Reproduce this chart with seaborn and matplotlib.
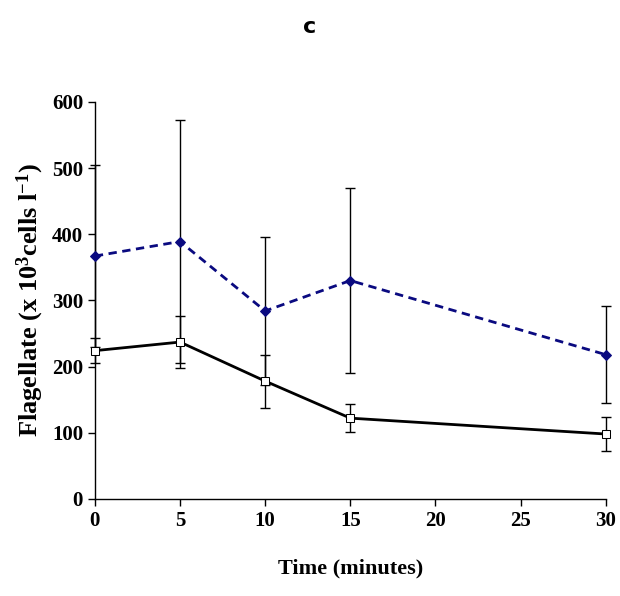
import numpy as np
import pandas as pd
import seaborn as sns
import matplotlib.pyplot as plt

# data
time = [0, 5, 10, 15, 30]
treated = [367, 389, 284, 330, 218]
treated_err = [138, 184, 112, 140, 73]
control = [224, 237, 178, 122, 98]
control_err = [19, 39, 40, 21, 25]

sns.set_style('white')
plt.rcParams['font.family'] = ['Liberation Serif', 'DejaVu Serif']
plt.rcParams['mathtext.default'] = 'regular'
plt.rcParams['text.color'] = 'black'
plt.rcParams['axes.labelcolor'] = 'black'

df = pd.DataFrame({'time': time * 2,
                   'value': treated + control,
                   'err': treated_err + control_err,
                   'series': ['treated'] * 5 + ['control'] * 5})

fig, ax = plt.subplots(figsize=(6.2, 5.96), dpi=100)
fig.subplots_adjust(left=0.153, right=0.977, top=0.829, bottom=0.163)

d1 = df[df.series == 'treated']
d2 = df[df.series == 'control']
for d in (d1, d2):
    eb = ax.errorbar(d.time, d.value, yerr=d.err, fmt='none', ecolor='black', elinewidth=1, capsize=3.5, zorder=1)
    for a in eb.lines[1] + eb.lines[2]:
        a.set_clip_on(False)
sns.lineplot(data=d1, x='time', y='value', ax=ax, color='#0a0a80', linestyle=(0, (3, 2)), linewidth=2,
             marker='D', markersize=5, markeredgecolor='#0a0a80', zorder=3, clip_on=False)
sns.lineplot(data=d2, x='time', y='value', ax=ax, color='black', linewidth=2,
             marker='s', markersize=6, markerfacecolor='white', markeredgecolor='black', zorder=3, clip_on=False)

ax.set_xlim(0, 30)
ax.set_ylim(0, 600)
ax.set_xticks([0, 5, 10, 15, 20, 25, 30])
ax.set_yticks(range(0, 601, 100))
for s in ['top', 'right']:
    ax.spines[s].set_visible(False)
for s in ['left', 'bottom']:
    ax.spines[s].set_color('black')
    ax.spines[s].set_linewidth(1)
ax.tick_params(direction='out', length=5, width=1, colors='black', labelcolor='black', bottom=True, left=True, labelsize=15)
for lab in ax.get_xticklabels() + ax.get_yticklabels():
    lab.set_fontweight('bold')
ax.set_xlabel('Time (minutes)', fontsize=16, fontweight='bold', labelpad=20)
ax.set_ylabel('Flagellate (x 10$^{3}$cells l$^{-1}$)', fontsize=19, fontweight='bold', labelpad=4)
fig.text(0.5, 0.955, 'c', ha='center', va='center', fontsize=16, fontweight='bold', family='DejaVu Sans', color='black')

fig.savefig('out.png')
